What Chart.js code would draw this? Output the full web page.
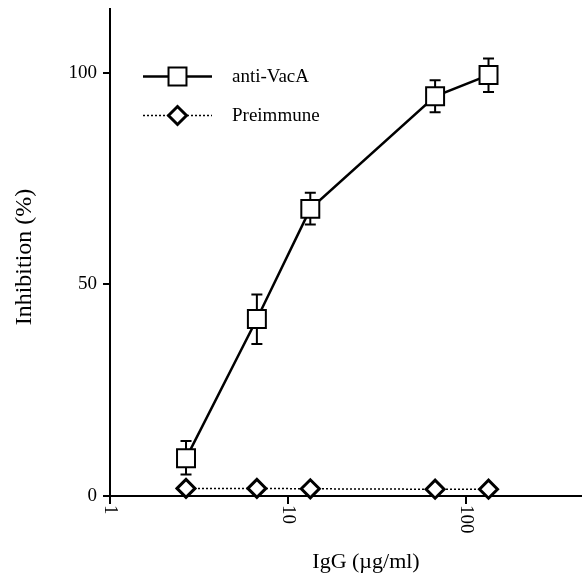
<!DOCTYPE html>
<html>
<head>
<meta charset="utf-8">
<script src="https://cdn.jsdelivr.net/npm/chart.js@4/dist/chart.umd.min.js"></script>
<style>
  html, body { margin: 0; padding: 0; background: #fff; }
  #wrap { width: 582px; height: 575px; }
</style>
</head>
<body>
<div id="wrap"><canvas id="chart" width="582" height="575"></canvas></div>
<script>
const igg = [2.67, 6.67, 13.3, 66.7, 133];
const antiVacA = [8.9, 41.8, 67.8, 94.4, 99.4];
const antiVacAUp = [13.0, 47.6, 71.6, 98.2, 103.3];
const antiVacADown = [5.1, 35.9, 64.1, 90.6, 95.4];
const preimmune = [1.8, 1.8, 1.7, 1.6, 1.6];
const xTicks = [1, 10, 100];
const yTicks = [0, 50, 100];

const serif = "'Liberation Serif', 'DejaVu Serif', serif";
Chart.defaults.font.family = serif;
Chart.defaults.color = '#000';

// error bars: stem from square edge up/down to a short cap
const errorBars = {
  id: 'errorBars',
  afterDatasetsDraw(chart) {
    const {ctx, scales: {x, y}} = chart;
    ctx.save();
    ctx.strokeStyle = '#000';
    ctx.lineWidth = 2;
    igg.forEach((v, i) => {
      const px = x.getPixelForValue(v);
      const pc = y.getPixelForValue(antiVacA[i]);
      const pu = y.getPixelForValue(antiVacAUp[i]);
      const pd = y.getPixelForValue(antiVacADown[i]);
      ctx.beginPath();
      ctx.moveTo(px, pc - 9); ctx.lineTo(px, pu);
      ctx.moveTo(px - 5.5, pu); ctx.lineTo(px + 5.5, pu);
      ctx.moveTo(px, pc + 9); ctx.lineTo(px, pd);
      ctx.moveTo(px - 5.5, pd); ctx.lineTo(px + 5.5, pd);
      ctx.stroke();
    });
    ctx.restore();
  }
};

// legend, x tick labels (rotated) and axis titles
const decorations = {
  id: 'decorations',
  afterDraw(chart) {
    const {ctx, scales: {x}} = chart;
    ctx.save();

    // legend rows
    const rows = [{y: 76.5, ds: chart.data.datasets[0]}, {y: 115.5, ds: chart.data.datasets[1]}];
    rows.forEach(r => {
      const ds = r.ds;
      ctx.strokeStyle = '#000';
      ctx.lineWidth = ds.borderWidth;
      ctx.setLineDash(ds.borderDash || []);
      ctx.beginPath();
      ctx.moveTo(143, r.y); ctx.lineTo(212, r.y);
      ctx.stroke();
      ctx.setLineDash([]);
      ctx.fillStyle = '#fff';
      ctx.lineWidth = ds.pointBorderWidth;
      Chart.helpers.drawPoint(ctx, {
        pointStyle: ds.pointStyle, radius: ds.pointRadius,
        borderWidth: ds.pointBorderWidth, rotation: 0
      }, 177.5, r.y);
      ctx.fillStyle = '#000';
      ctx.font = '19px ' + serif;
      ctx.textAlign = 'left';
      ctx.textBaseline = 'middle';
      ctx.fillText(ds.label, 232, r.y + 1);
    });

    // x tick labels, reading top to bottom
    ctx.fillStyle = '#000';
    ctx.font = '19px ' + serif;
    xTicks.forEach(v => {
      const px = x.getPixelForValue(v);
      ctx.save();
      ctx.translate(px, 505);
      ctx.rotate(Math.PI / 2);
      ctx.textAlign = 'left';
      ctx.textBaseline = 'middle';
      ctx.fillText(String(v), 0, 0);
      ctx.restore();
    });

    // axis titles
    ctx.font = '22px ' + serif;
    ctx.textAlign = 'center';
    ctx.textBaseline = 'alphabetic';
    ctx.fillText('IgG (\u00B5g/ml)', 366, 568);

    ctx.save();
    ctx.translate(31, 257);
    ctx.rotate(-Math.PI / 2);
    ctx.font = '24px ' + serif;
    ctx.fillText('Inhibition (%)', 0, 0);
    ctx.restore();

    ctx.restore();
  }
};

new Chart(document.getElementById('chart'), {
  type: 'line',
  data: {
    datasets: [
      {
        label: 'anti-VacA',
        data: igg.map((v, i) => ({x: v, y: antiVacA[i]})),
        borderColor: '#000',
        borderWidth: 2.5,
        pointStyle: 'rect',
        pointRadius: 12.7,
        pointBorderWidth: 2,
        pointBackgroundColor: '#fff',
        pointBorderColor: '#000',
        tension: 0,
        clip: false
      },
      {
        label: 'Preimmune',
        data: igg.map((v, i) => ({x: v, y: preimmune[i]})),
        borderColor: '#000',
        borderWidth: 1.5,
        borderDash: [2, 2],
        pointStyle: 'rectRot',
        pointRadius: 9,
        pointBorderWidth: 3,
        pointBackgroundColor: '#fff',
        pointBorderColor: '#000',
        tension: 0,
        clip: false
      }
    ]
  },
  options: {
    responsive: false,
    animation: false,
    layout: {autoPadding: false, padding: {top: 9, right: 0, left: 0, bottom: 0}},
    plugins: {legend: {display: false}, tooltip: {enabled: false}},
    scales: {
      x: {
        type: 'logarithmic',
        min: 1,
        max: 445,
        afterBuildTicks: s => { s.ticks = xTicks.map(v => ({value: v})); },
        afterFit: s => { s.height = 79; s.paddingLeft = 0; s.paddingRight = 0; },
        ticks: {display: false},
        grid: {drawOnChartArea: false, drawTicks: true, tickLength: 8, color: '#000', lineWidth: 2},
        border: {display: true, color: '#000', width: 2}
      },
      y: {
        min: 0,
        max: 115,
        afterBuildTicks: s => { s.ticks = yTicks.map(v => ({value: v})); },
        afterFit: s => { s.width = 110; s.paddingTop = 0; s.paddingBottom = 0; },
        ticks: {padding: 6, font: {size: 19}, color: '#000'},
        grid: {drawOnChartArea: false, drawTicks: true, tickLength: 7, color: '#000', lineWidth: 2},
        border: {display: true, color: '#000', width: 2}
      }
    }
  },
  plugins: [errorBars, decorations]
});
</script>
</body>
</html>
